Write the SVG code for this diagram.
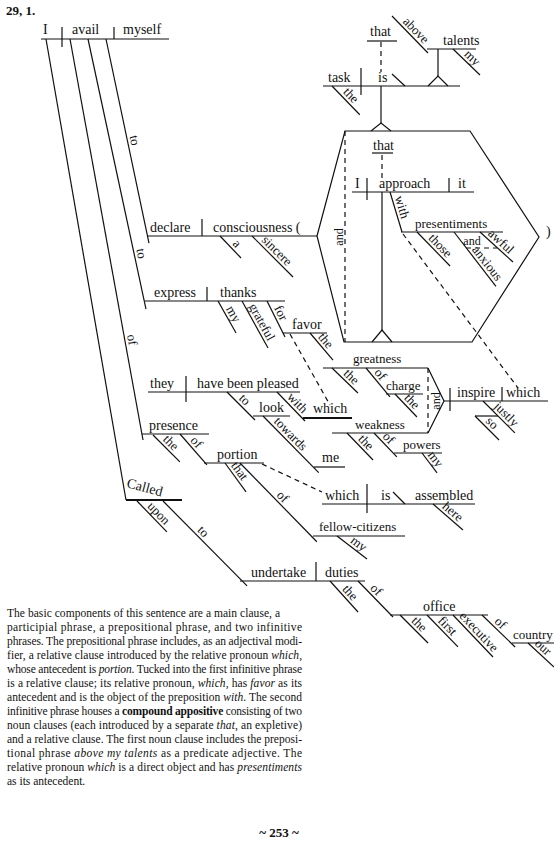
<svg xmlns="http://www.w3.org/2000/svg" width="554" height="841" viewBox="0 0 554 841">
<style>
.ln{stroke:#111;stroke-width:1.2;fill:none}
.bd{stroke:#111;stroke-width:2;fill:none}
.ds{stroke:#111;stroke-width:1.2;fill:none;stroke-dasharray:5 4}
text{font-family:"Liberation Serif","Times New Roman",serif;fill:#111}
.w{font-size:14px}
.sm{font-size:13px}
.l{font-size:13px;text-anchor:middle}
.a{font-size:12px;text-anchor:middle}
.p{font-size:11.5px}
.h{font-size:13px;font-weight:bold}
</style>
<rect width="554" height="841" fill="#fff"/>
<text class="h" x="6" y="15">29, 1.</text>

<g id="connectors">
  <line class="ln" x1="46" y1="39" x2="126" y2="500"/>
  <g transform="translate(70,39) rotate(79.68)"><line class="ln" x2="407.6"/><text class="l" x="307" y="-3">of</text></g>
  <g transform="translate(88,39) rotate(77.88)"><line class="ln" x2="276.2"/><text class="l" x="221" y="-3">to</text></g>
  <g transform="translate(106,39) rotate(78.1)"><line class="ln" x2="208.5"/><text class="l" x="105" y="-3">to</text></g>
  <line class="ds" x1="381" y1="42" x2="381" y2="72"/>
  <line class="ds" x1="382" y1="155" x2="382" y2="178"/>
  <line class="ds" x1="290" y1="334" x2="330" y2="405"/>
  <line class="ds" x1="403" y1="234" x2="518" y2="388"/>
  <line class="ds" x1="262" y1="464" x2="322" y2="492"/>
  <line class="ln" x1="381" y1="86" x2="381" y2="123"/>
  <polyline class="ln" points="371,131 381,123 391,131"/>
  <line class="ln" x1="382" y1="192" x2="382" y2="330"/>
  <polyline class="ln" points="372,342 382,330 392,342"/>
  <line class="ln" x1="438" y1="49" x2="438" y2="76"/>
  <polyline class="ln" points="428,86 438,76 448,86"/>
</g>

<g id="main-clause">
  <line class="ln" x1="41" y1="39" x2="169" y2="39"/>
  <line class="ln" x1="62" y1="27" x2="62" y2="47"/>
  <line class="ln" x1="114" y1="27" x2="114" y2="39"/>
  <text class="w" x="43" y="34">I</text>
  <text class="w" x="72" y="34">avail</text>
  <text class="w" x="123" y="34">myself</text>
</g>

<g id="declare">
  <line class="ln" x1="148" y1="236" x2="317" y2="236"/>
  <line class="ln" x1="202" y1="219" x2="202" y2="236"/>
  <text class="w" x="150" y="232">declare</text>
  <text class="w" x="213" y="232">consciousness (</text>
  <g transform="translate(220,236) rotate(46.3)"><line class="ln" x2="30.4"/><text class="l" x="17" y="-3">a</text></g>
  <g transform="translate(252,236) rotate(45)"><line class="ln" x2="58"/><text class="l" x="28" y="-3">sincere</text></g>
</g>

<g id="appositive-frame">
  <polygon class="ln" points="317,236 345,131 470,131 539,237 472,342 344,342"/>
  <line class="ds" x1="345" y1="131" x2="345" y2="342"/>
  <text class="a" transform="translate(343,237) rotate(-90)">and</text>
  <text class="w" x="546" y="236">)</text>
</g>

<g id="clause-task">
  <line class="ln" x1="323" y1="86" x2="460" y2="86"/>
  <line class="ln" x1="361" y1="68" x2="361" y2="95"/>
  <line class="ln" x1="392" y1="74" x2="405" y2="86"/>
  <text class="w" x="328" y="82">task</text>
  <text class="w" x="378" y="82">is</text>
  <line class="ln" x1="367" y1="41" x2="397" y2="41"/>
  <text class="w" x="370" y="36">that</text>
  <g transform="translate(332,86) rotate(46)"><line class="ln" x2="40"/><text class="l" x="20" y="-3">the</text></g>
  <g transform="translate(392,16) rotate(45.8)"><line class="ln" x2="51.6"/><text class="l" x="27" y="-3">above</text></g>
  <line class="ln" x1="427" y1="49" x2="476" y2="49"/>
  <text class="w" x="443" y="45">talents</text>
  <g transform="translate(453,49) rotate(44)"><line class="ln" x2="37.5"/><text class="l" x="20" y="-3">my</text></g>
</g>

<g id="clause-approach">
  <line class="ln" x1="372" y1="153" x2="393" y2="153"/>
  <text class="w" x="373" y="150">that</text>
  <line class="ln" x1="352" y1="192" x2="474" y2="192"/>
  <line class="ln" x1="367" y1="178" x2="367" y2="200"/>
  <line class="ln" x1="449" y1="178" x2="449" y2="192"/>
  <text class="w" x="355" y="188">I</text>
  <text class="w" x="379" y="188">approach</text>
  <text class="w" x="458" y="188">it</text>
  <g transform="translate(390,192) rotate(73.3)"><line class="ln" x2="41.8"/><text class="l" x="18" y="-3">with</text></g>
  <line class="ln" x1="401" y1="232" x2="503" y2="232"/>
  <text class="sm" x="415" y="228">presentiments</text>
  <g transform="translate(417,232) rotate(45.8)"><line class="ln" x2="47.4"/><text class="l" x="26" y="-3">those</text></g>
  <g transform="translate(454,232) rotate(52.3)"><line class="ln" x2="68.6"/><text class="l" x="45" y="-3">anxious</text></g>
  <g transform="translate(480,232) rotate(42.3)"><line class="ln" x2="44.6"/><text class="l" x="22" y="-3">awful</text></g>
  <line class="ds" x1="466" y1="248" x2="497" y2="248"/>
  <text class="a" x="472" y="245">and</text>
</g>

<g id="express">
  <line class="ln" x1="145" y1="301" x2="285" y2="301"/>
  <line class="ln" x1="207" y1="287" x2="207" y2="301"/>
  <text class="w" x="154" y="297">express</text>
  <text class="w" x="220" y="297">thanks</text>
  <g transform="translate(218,301) rotate(60.6)"><line class="ln" x2="36.7"/><text class="l" x="19" y="-3">my</text></g>
  <g transform="translate(242,301) rotate(61)"><line class="ln" x2="53.7"/><text class="l" x="28" y="-3">grateful</text></g>
  <g transform="translate(267,301) rotate(63.4)"><line class="ln" x2="40.2"/><text class="l" x="17" y="-3">for</text></g>
  <line class="ln" x1="283" y1="333" x2="327" y2="333"/>
  <text class="w" x="292" y="329">favor</text>
  <g transform="translate(310,333) rotate(49.6)"><line class="ln" x2="35.5"/><text class="l" x="16" y="-3">the</text></g>
</g>

<g id="clause-they">
  <line class="ln" x1="148" y1="392" x2="300" y2="392"/>
  <line class="ln" x1="186" y1="376" x2="186" y2="402"/>
  <text class="w" x="150" y="388">they</text>
  <text class="w" x="197" y="388">have been pleased</text>
  <g transform="translate(227,392) rotate(45)"><line class="ln" x2="39.6"/><text class="l" x="18" y="-3">to</text></g>
  <line class="ln" x1="253" y1="416" x2="290" y2="416"/>
  <text class="w" x="259" y="412">look</text>
  <g transform="translate(263,416) rotate(45.5)"><line class="ln" x2="79.5"/><text class="l" x="32" y="-3">towards</text></g>
  <line class="ln" x1="314" y1="467" x2="345" y2="467"/>
  <text class="w" x="322" y="462">me</text>
  <g transform="translate(277,392) rotate(46)"><line class="ln" x2="40.3"/><text class="l" x="22" y="-3">with</text></g>
  <line class="bd" x1="303" y1="418" x2="352" y2="418"/>
  <text class="w" x="313" y="413">which</text>
</g>

<g id="clause-inspire">
  <line class="ln" x1="323" y1="368" x2="428" y2="368"/>
  <text class="sm" x="353" y="363">greatness</text>
  <g transform="translate(332,368) rotate(43.9)"><line class="ln" x2="36"/><text class="l" x="20" y="-3">the</text></g>
  <g transform="translate(366,368) rotate(50.4)"><line class="ln" x2="37.6"/><text class="l" x="14" y="-3">of</text></g>
  <line class="ln" x1="386" y1="394" x2="423" y2="394"/>
  <text class="sm" x="386" y="390">charge</text>
  <g transform="translate(395,394) rotate(46.3)"><line class="ln" x2="31.8"/><text class="l" x="17" y="-3">the</text></g>
  <line class="ln" x1="332" y1="433" x2="428" y2="433"/>
  <text class="sm" x="355" y="429">weakness</text>
  <g transform="translate(347,433) rotate(46)"><line class="ln" x2="37.5"/><text class="l" x="20" y="-3">the</text></g>
  <g transform="translate(374,433) rotate(46.2)"><line class="ln" x2="33"/><text class="l" x="14" y="-3">of</text></g>
  <line class="ln" x1="394" y1="453" x2="442" y2="453"/>
  <text class="sm" x="403" y="449">powers</text>
  <g transform="translate(422,453) rotate(53)"><line class="ln" x2="25"/><text class="l" x="13" y="-3">my</text></g>
  <polyline class="ln" points="428,368 444,401 428,433"/>
  <line class="ds" x1="428" y1="368" x2="428" y2="433"/>
  <text class="a" transform="translate(440,401) rotate(-90)">and</text>
  <line class="ln" x1="444" y1="401" x2="548" y2="401"/>
  <line class="ln" x1="450" y1="388" x2="450" y2="411"/>
  <line class="ln" x1="502" y1="387" x2="502" y2="401"/>
  <text class="w" x="457" y="397">inspire</text>
  <text class="w" x="506" y="397">which</text>
  <g transform="translate(483,401) rotate(45)"><line class="ln" x2="45"/><text class="l" x="26" y="-3">justly</text></g>
  <line class="ln" x1="475" y1="416" x2="498" y2="416"/>
  <g transform="translate(475,416) rotate(45)"><line class="ln" x2="34"/><text class="l" x="17" y="-3">so</text></g>
</g>

<g id="presence">
  <line class="ln" x1="142" y1="434" x2="209" y2="434"/>
  <text class="w" x="149" y="430">presence</text>
  <g transform="translate(153,435) rotate(45)"><line class="ln" x2="38"/><text class="l" x="18" y="-3">the</text></g>
  <g transform="translate(180,434) rotate(48.9)"><line class="ln" x2="41"/><text class="l" x="17" y="-3">of</text></g>
  <line class="ln" x1="204" y1="463" x2="264" y2="463"/>
  <text class="w" x="217" y="459">portion</text>
  <g transform="translate(225,463) rotate(54)"><line class="ln" x2="35.8"/><text class="l" x="15" y="-3">that</text></g>
  <g transform="translate(240,463) rotate(45.7)"><line class="ln" x2="110"/><text class="l" x="54" y="-3">of</text></g>
  <line class="ln" x1="313" y1="536" x2="405" y2="536"/>
  <text class="sm" x="319" y="531">fellow-citizens</text>
  <g transform="translate(337,536) rotate(37.5)"><line class="ln" x2="37.8"/><text class="l" x="22" y="-3">my</text></g>
</g>

<g id="clause-assembled">
  <line class="ln" x1="322" y1="504" x2="475" y2="504"/>
  <line class="ln" x1="367" y1="484" x2="367" y2="513"/>
  <line class="ln" x1="393" y1="492" x2="405" y2="504"/>
  <text class="w" x="325" y="500">which</text>
  <text class="w" x="381" y="500">is</text>
  <text class="w" x="415" y="500">assembled</text>
  <g transform="translate(433,504) rotate(41)"><line class="ln" x2="39.7"/><text class="l" x="20" y="-3">here</text></g>
</g>

<g id="called">
  <line class="bd" x1="126" y1="500" x2="182" y2="500"/>
  <text class="w" transform="translate(126,487) rotate(15)">Called</text>
  <g transform="translate(137,501) rotate(46)"><line class="ln" x2="43"/><text class="l" x="24" y="-3">upon</text></g>
  <g transform="translate(163,501) rotate(45.3)"><line class="ln" x2="119.5"/><text class="l" x="50" y="-3">to</text></g>
</g>

<g id="undertake">
  <line class="ln" x1="240" y1="581" x2="365" y2="581"/>
  <line class="ln" x1="316" y1="562" x2="316" y2="581"/>
  <text class="w" x="251" y="577">undertake</text>
  <text class="w" x="325" y="577">duties</text>
  <g transform="translate(330,581) rotate(47.9)"><line class="ln" x2="41.8"/><text class="l" x="22" y="-3">the</text></g>
  <g transform="translate(358,581) rotate(45.8)"><line class="ln" x2="50.2"/><text class="l" x="19" y="-3">of</text></g>
  <line class="ln" x1="390" y1="615" x2="488" y2="615"/>
  <text class="w" x="423" y="611">office</text>
  <g transform="translate(400,615) rotate(45)"><line class="ln" x2="39.6"/><text class="l" x="20" y="-3">the</text></g>
  <g transform="translate(427,615) rotate(45.9)"><line class="ln" x2="44.5"/><text class="l" x="22" y="-3">first</text></g>
  <g transform="translate(453,615) rotate(46.4)"><line class="ln" x2="58"/><text class="l" x="30" y="-3">executive</text></g>
  <g transform="translate(482,615) rotate(44)"><line class="ln" x2="46"/><text class="l" x="19" y="-3">of</text></g>
  <line class="ln" x1="512" y1="643" x2="554" y2="643"/>
  <text class="sm" x="513" y="639">country</text>
  <g transform="translate(528,643) rotate(42.7)"><line class="ln" x2="35.4"/><text class="l" x="14" y="-3">our</text></g>
</g>

<g id="commentary">
  <text class="p" x="7" y="617" textLength="273" lengthAdjust="spacing">The basic components of this sentence are a main clause, a</text>
  <text class="p" x="7" y="631" textLength="295" lengthAdjust="spacing">participial phrase, a prepositional phrase, and two infinitive</text>
  <text class="p" x="7" y="645" textLength="295" lengthAdjust="spacing">phrases. The prepositional phrase includes, as an adjectival modi-</text>
  <text class="p" x="7" y="659" textLength="295" lengthAdjust="spacing">fier, a relative clause introduced by the relative pronoun <tspan font-style="italic">which</tspan>,</text>
  <text class="p" x="7" y="673" textLength="295" lengthAdjust="spacing">whose antecedent is <tspan font-style="italic">portion</tspan>. Tucked into the first infinitive phrase</text>
  <text class="p" x="7" y="687" textLength="295" lengthAdjust="spacing">is a relative clause; its relative pronoun, <tspan font-style="italic">which</tspan>, has <tspan font-style="italic">favor</tspan> as its</text>
  <text class="p" x="7" y="701" textLength="295" lengthAdjust="spacing">antecedent and is the object of the preposition <tspan font-style="italic">with</tspan>. The second</text>
  <text class="p" x="7" y="715" textLength="295" lengthAdjust="spacing">infinitive phrase houses a <tspan font-weight="bold">compound appositive</tspan> consisting of two</text>
  <text class="p" x="7" y="729" textLength="295" lengthAdjust="spacing">noun clauses (each introduced by a separate <tspan font-style="italic">that</tspan>, an expletive)</text>
  <text class="p" x="7" y="743" textLength="295" lengthAdjust="spacing">and a relative clause. The first noun clause includes the preposi-</text>
  <text class="p" x="7" y="757" textLength="295" lengthAdjust="spacing">tional phrase <tspan font-style="italic">above my talents</tspan> as a predicate adjective.  The</text>
  <text class="p" x="7" y="771" textLength="295" lengthAdjust="spacing">relative pronoun <tspan font-style="italic">which</tspan> is a direct object and has <tspan font-style="italic">presentiments</tspan></text>
  <text class="p" x="7" y="785">as its antecedent.</text>
</g>
<text class="h" x="279" y="837" text-anchor="middle">~ 253 ~</text>
</svg>
